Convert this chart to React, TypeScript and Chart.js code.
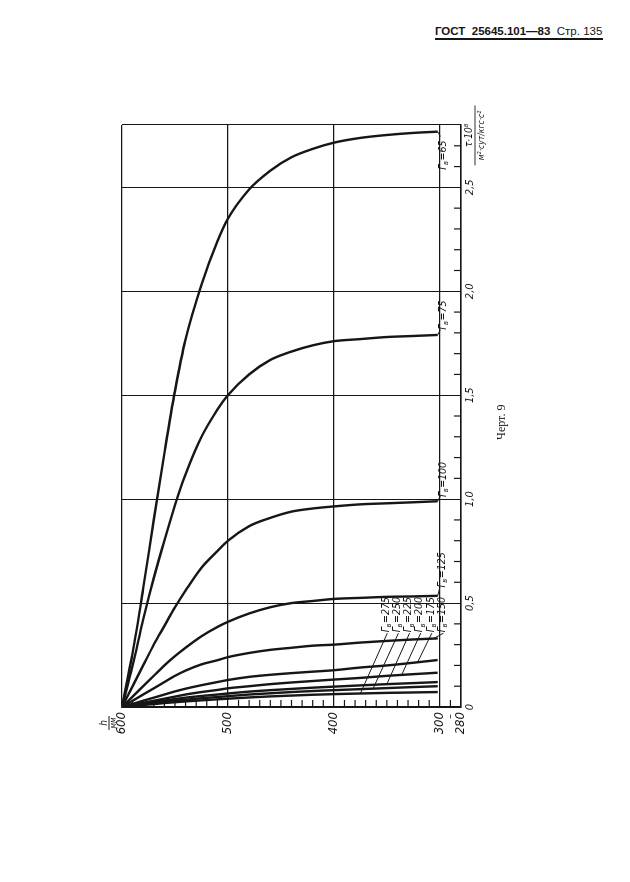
import React, { useEffect, useRef } from 'react';
import { Chart, registerables } from 'chart.js';

Chart.register(...registerables);

// ---- data ----
const H_LEVELS = [600, 590, 580, 570, 560, 550, 540, 525, 510, 500, 480, 460, 440, 420, 400, 375, 350, 325, 302];
const GAMMA = [65, 75, 100, 125, 150, 175, 200, 225, 250, 275];

const TAU_65 = [0, 0.26, 0.57, 0.9, 1.22, 1.52, 1.77, 2.03, 2.24, 2.35, 2.49, 2.58, 2.645, 2.685, 2.715, 2.738, 2.752, 2.762, 2.768];
const TAU_75 = [0, 0.2, 0.42, 0.62, 0.8, 0.97, 1.12, 1.3, 1.43, 1.5, 1.6, 1.67, 1.71, 1.74, 1.76, 1.77, 1.78, 1.785, 1.79];
const TAU_100 = [0, 0.1, 0.2, 0.3, 0.39, 0.48, 0.56, 0.67, 0.75, 0.8, 0.87, 0.91, 0.94, 0.955, 0.965, 0.975, 0.98, 0.985, 0.99];
const TAU_125 = [0, 0.05, 0.1, 0.15, 0.2, 0.245, 0.285, 0.34, 0.385, 0.41, 0.45, 0.48, 0.5, 0.51, 0.52, 0.525, 0.53, 0.532, 0.535];
const TAU_150 = [0, 0.03, 0.06, 0.09, 0.12, 0.15, 0.175, 0.205, 0.225, 0.24, 0.26, 0.275, 0.285, 0.295, 0.3, 0.31, 0.318, 0.325, 0.33];
const TAU_175 = [0, 0.015, 0.03, 0.045, 0.06, 0.075, 0.088, 0.105, 0.12, 0.13, 0.145, 0.155, 0.163, 0.17, 0.177, 0.19, 0.2, 0.213, 0.226];
const TAU_200 = [0, 0.01, 0.02, 0.03, 0.04, 0.05, 0.06, 0.072, 0.082, 0.09, 0.1, 0.11, 0.118, 0.125, 0.132, 0.14, 0.15, 0.158, 0.165];
const TAU_225 = [0, 0.008, 0.016, 0.024, 0.031, 0.038, 0.045, 0.053, 0.06, 0.065, 0.074, 0.081, 0.087, 0.093, 0.098, 0.104, 0.11, 0.115, 0.12];
const TAU_250 = [0, 0.006, 0.012, 0.018, 0.024, 0.03, 0.035, 0.042, 0.048, 0.052, 0.06, 0.066, 0.072, 0.077, 0.081, 0.086, 0.091, 0.096, 0.1];
const TAU_275 = [0, 0.005, 0.01, 0.014, 0.019, 0.023, 0.027, 0.032, 0.037, 0.04, 0.046, 0.051, 0.055, 0.059, 0.062, 0.065, 0.068, 0.07, 0.072];

const TAU_SERIES = [TAU_65, TAU_75, TAU_100, TAU_125, TAU_150, TAU_175, TAU_200, TAU_225, TAU_250, TAU_275];

const H_TICKS = [600, 500, 400, 300, 280];
const TAU_TICKS = [0, 0.5, 1, 1.5, 2, 2.5];
const TAU_TICK_LABELS = ['0', '0,5', '1,0', '1,5', '2,0', '2,5'];
const H_MIN = 280;
const H_MAX = 600;
const TAU_MAX = 2.8;

// ---- label placement (positions in data units, kept apart from the data) ----
const LABEL_LAYOUT = [
  { textTau: 2.585, textH: 297, fromEnd: true, toTau: 2.745, toH: 299.5, leaderH: 0 },
  { textTau: 1.815, textH: 297, fromEnd: true, toTau: 1.815, toH: 299.5, leaderH: 0 },
  { textTau: 1.01, textH: 297, fromEnd: true, toTau: 1.015, toH: 299.5, leaderH: 0 },
  { textTau: 0.575, textH: 297.5, fromEnd: true, toTau: 0.575, toH: 300, leaderH: 0 },
  { textTau: 0.36, textH: 297.5, fromEnd: false, toTau: 0, toH: 0, leaderH: 306 },
  { textTau: 0.36, textH: 308.5, fromEnd: false, toTau: 0, toH: 0, leaderH: 321 },
  { textTau: 0.36, textH: 319, fromEnd: false, toTau: 0, toH: 0, leaderH: 336 },
  { textTau: 0.36, textH: 329.5, fromEnd: false, toTau: 0, toH: 0, leaderH: 350 },
  { textTau: 0.36, textH: 340, fromEnd: false, toTau: 0, toH: 0, leaderH: 363 },
  { textTau: 0.36, textH: 350.5, fromEnd: false, toTau: 0, toH: 0, leaderH: 375 },
];

const INK = '#161616';
const NARROW = '"DejaVu Sans Condensed", "Liberation Sans Narrow", "DejaVu Sans", sans-serif';

function tauAt(series: number[], h: number): number {
  for (let i = 0; i < H_LEVELS.length - 1; i++) {
    const a = H_LEVELS[i];
    const b = H_LEVELS[i + 1];
    if (h <= a && h >= b) {
      const f = (a - h) / (a - b);
      return series[i] + f * (series[i + 1] - series[i]);
    }
  }
  return series[series.length - 1];
}

function drawGamma(ctx: CanvasRenderingContext2D, x: number, y: number, value: number) {
  ctx.textAlign = 'left';
  ctx.textBaseline = 'middle';
  ctx.font = `italic 10.5px ${NARROW}`;
  ctx.fillText('Г', x, y);
  let w = ctx.measureText('Г').width;
  ctx.font = `italic 7.5px ${NARROW}`;
  ctx.fillText('в', x + w - 0.5, y + 3);
  w += ctx.measureText('в').width;
  ctx.font = `italic 10.5px ${NARROW}`;
  ctx.fillText('=' + value, x + w, y);
}

const decorPlugin = {
  id: 'decor',
  afterDraw(chart: any) {
    const ctx: CanvasRenderingContext2D = chart.ctx;
    const xs = chart.scales.x;
    const ys = chart.scales.y;
    const px = (t: number) => xs.getPixelForValue(t);
    const py = (h: number) => ys.getPixelForValue(h);
    const seg = (x1: number, y1: number, x2: number, y2: number) => {
      ctx.beginPath();
      ctx.moveTo(x1, y1);
      ctx.lineTo(x2, y2);
      ctx.stroke();
    };
    ctx.save();
    ctx.strokeStyle = INK;
    ctx.fillStyle = INK;
    ctx.lineWidth = 1.2;

    // minor ticks along the h scale (on τ = 0 line)
    for (let h = 290; h < H_MAX; h += 10) {
      if (h % 100 === 0) continue;
      seg(px(0), py(h), px(0) + 7, py(h));
    }
    // minor ticks along the τ axis (at h = 280), pointing inward
    for (let i = 1; i <= 27; i++) {
      if (i % 5 === 0) continue;
      const t = i / 10;
      seg(px(t), py(H_MIN), px(t), py(H_MIN) - 7);
    }

    // curve labels with leaders
    ctx.lineWidth = 1;
    LABEL_LAYOUT.forEach((lab, i) => {
      const series = TAU_SERIES[i];
      if (lab.fromEnd) {
        const endT = series[series.length - 1];
        const endH = H_LEVELS[H_LEVELS.length - 1];
        seg(px(endT), py(endH), px(lab.toTau), py(lab.toH));
      } else {
        const t = tauAt(series, lab.leaderH);
        seg(px(lab.textTau) - 1, py(lab.textH) + 1, px(t), py(lab.leaderH));
      }
      drawGamma(ctx, px(lab.textTau), py(lab.textH), GAMMA[i]);
    });

    // h axis title  h / мм
    const hx = px(0) - 16;
    const hy = py(H_MAX) - 13;
    ctx.textAlign = 'center';
    ctx.textBaseline = 'middle';
    ctx.font = `italic 10px ${NARROW}`;
    ctx.fillText('h', hx, hy - 5);
    ctx.lineWidth = 1;
    seg(hx - 7, hy, hx + 7, hy);
    ctx.font = `italic 8px ${NARROW}`;
    ctx.fillText('мм', hx, hy + 5);

    // τ axis title
    const tx = px(2.75);
    const ty = py(H_MIN) + 8;
    ctx.font = `italic 10px ${NARROW}`;
    ctx.fillText('τ·10⁸', tx, ty);
    ctx.lineWidth = 0.9;
    seg(tx - 30, ty + 6, tx + 30, ty + 6);
    ctx.font = `italic 8.5px ${NARROW}`;
    ctx.fillText('м²·сут/кгс·с²', tx, ty + 13);

    // dash at 290
    ctx.font = `11px ${NARROW}`;
    ctx.textAlign = 'right';
    ctx.fillText('–', px(0) - 7, py(290));

    // drawing caption
    ctx.textAlign = 'center';
    ctx.font = `12px "Liberation Serif", "DejaVu Serif", serif`;
    ctx.fillText('Черт. 9', px(1.37), py(H_MIN) + 41);

    ctx.restore();
  },
};

export default function App() {
  const canvasRef = useRef<HTMLCanvasElement | null>(null);

  useEffect(() => {
    if (!canvasRef.current) return;
    const datasets = TAU_SERIES.map((series, i) => ({
      label: 'Гв=' + GAMMA[i],
      data: series.map((t, k) => ({ x: t, y: H_LEVELS[k] })),
      borderColor: INK,
      borderWidth: 2.4,
      pointRadius: 0,
      fill: false,
      cubicInterpolationMode: 'monotone' as const,
    }));

    const chart = new Chart(canvasRef.current, {
      type: 'line',
      data: { datasets },
      plugins: [decorPlugin],
      options: {
        responsive: false,
        animation: false,
        devicePixelRatio: 1,
        indexAxis: 'y',
        layout: { padding: { top: 122, right: 125, left: 0, bottom: 0 } },
        plugins: { legend: { display: false }, tooltip: { enabled: false } },
        scales: {
          x: {
            type: 'linear',
            position: 'bottom',
            min: 0,
            max: TAU_MAX,
            afterBuildTicks: (scale: any) => {
              scale.ticks = [...TAU_TICKS, TAU_MAX].map((v) => ({ value: v }));
            },
            afterFit: (scale: any) => {
              scale.height = 169;
            },
            ticks: {
              autoSkip: false,
              maxRotation: 0,
              minRotation: 0,
              padding: 3,
              color: INK,
              font: { family: NARROW, size: 11, style: 'italic' },
              callback: (v: any) => {
                const idx = TAU_TICKS.indexOf(Number(v));
                return idx >= 0 ? TAU_TICK_LABELS[idx] : '';
              },
            },
            grid: { color: INK, lineWidth: 1, drawTicks: false },
            border: { display: true, color: INK, width: 1.6 },
          },
          y: {
            type: 'linear',
            position: 'left',
            min: H_MIN,
            max: H_MAX,
            afterBuildTicks: (scale: any) => {
              scale.ticks = H_TICKS.map((v) => ({ value: v }));
            },
            afterFit: (scale: any) => {
              scale.width = 175;
            },
            ticks: {
              autoSkip: false,
              padding: 5,
              color: INK,
              font: { family: NARROW, size: 13, style: 'italic' },
              callback: (v: any) => String(v),
            },
            grid: { color: INK, lineWidth: 1.2, drawTicks: false },
            border: { display: true, color: INK, width: 1.6 },
          },
        },
      } as any,
    });
    return () => chart.destroy();
  }, []);

  return (
    <div
      style={{
        position: 'absolute',
        left: 0,
        top: 0,
        width: 630,
        height: 882,
        overflow: 'hidden',
        background: '#fff',
      }}
    >
      <div
        style={{
          position: 'absolute',
          left: 435,
          top: 25,
          fontFamily: '"Liberation Sans", Arial, sans-serif',
          fontSize: 11.5,
          lineHeight: '12px',
          fontWeight: 'bold',
          whiteSpace: 'nowrap',
          color: INK,
        }}
      >
        ГОСТ&nbsp;&nbsp;25645.101—83&nbsp;&nbsp;<span style={{ fontWeight: 'normal' }}>Стр.&nbsp;135</span>
      </div>
      <div style={{ position: 'absolute', left: 435, top: 38, width: 168, height: 2, background: INK }} />
      <canvas
        ref={canvasRef}
        width={882}
        height={630}
        style={{
          position: 'absolute',
          left: 0,
          top: 0,
          width: 882,
          height: 630,
          transformOrigin: '0 0',
          transform: 'translate(0px, 882px) rotate(-90deg)',
        }}
      />
    </div>
  );
}
